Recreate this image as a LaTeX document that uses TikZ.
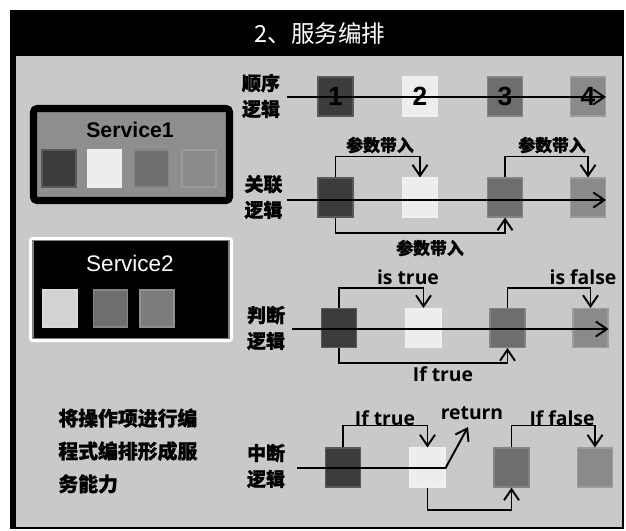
\documentclass[tikz,border=0pt]{standalone}
\usepackage{fontspec}
\setmainfont{Liberation Sans}
\newfontfamily\cjk{Noto Sans CJK SC}
\newfontfamily\cjkheavy{Noto Sans CJK SC}[BoldFeatures={FakeBold=1}]
\newfontfamily\opensans{Open Sans}
\usetikzlibrary{arrows.meta,positioning}
\definecolor{panel}{HTML}{C9C9C9}
\definecolor{svcgray}{HTML}{8E8E8E}
\definecolor{sqA}{HTML}{3C3C3C}
\definecolor{sqB}{HTML}{EDEDED}
\definecolor{sqC}{HTML}{6E6E6E}
\definecolor{sqD}{HTML}{8A8A8A}
\definecolor{sqE}{HTML}{D2D2D2}
\definecolor{sqF}{HTML}{7C7C7C}
\tikzset{
  cell/.style={fill=#1,draw=#1!85!white,line width=.6pt,inner sep=0pt,
    minimum width=7mm,minimum height=7.8mm},
  minicell/.style={cell=#1,minimum width=6.8mm,minimum height=7.4mm},
  rowlabel/.style={align=center,inner sep=0pt,
    font=\cjkheavy\bfseries\fontsize{10.8}{14.7}\selectfont},
  tag/.style={inner sep=1pt,font=\cjkheavy\bfseries\fontsize{9.6}{11}\selectfont},
  flag/.style={inner sep=1pt,font=\opensans\bfseries\fontsize{11}{13}\selectfont},
  arrow/.style={-{Straight Barb[length=2.2mm,width=3mm]},line width=1.1pt}
}

\begin{document}
\begin{tikzpicture}[x=0.2mm,y=-0.2mm]
  \useasboundingbox[fill=white] (0,0) rectangle (626,530);
  % frame and title bar
  \fill[black] (10,10) rectangle (624,529);
  \fill[panel] (16,56) rectangle (622,527);
  \node[text=white,font=\cjk\fontsize{13.4}{16}\selectfont] (title) at (320,33) {2、服务编排};

  % left panel
  \node[draw=black,line width=4pt,fill=svcgray,rounded corners=2pt,
    minimum width=39.2mm,minimum height=18.4mm] (svc1box) at (131.5,154.5) {};
  \node[font=\bfseries\fontsize{12.1}{14}\selectfont] (svc1) at (130,130) {Service1};
  \foreach \x/\c [count=\i] in {59/sqA,104.5/sqB,151.5/sqC,199/sqD}
    \node[minicell=\c] (svc1c\i) at (\x,168.5) {};
  \node[fill=white,rounded corners=2pt,minimum width=40.8mm,minimum height=21mm]
    (svc2frame) at (131,289.5) {};
  \node[fill=black,draw=gray,line width=.6pt,minimum width=39.2mm,minimum height=19.6mm]
    (svc2box) at (131,289.5) {};
  \node[text=white,font=\fontsize{12.8}{15}\selectfont] (svc2) at (130,263) {Service2};
  \foreach \x/\c [count=\i] in {60/sqE,110.5/sqC,157/sqF}
    \node[minicell=\c] (svc2c\i) at (\x,308.5) {};
  \node[anchor=west,align=left,inner sep=0pt,
    font=\cjkheavy\bfseries\fontsize{11.3}{18.7}\selectfont] (note) at (58,451)
    {将操作项进行编\\程式编排形成服\\务能力};

  % row labels
  \node[rowlabel] (seqlab) at (261,96) {顺序\\逻辑};
  \node[rowlabel] (linklab) at (263.5,197) {关联\\逻辑};
  \node[rowlabel] (judgelab) at (266,328) {判断\\逻辑};
  \node[rowlabel] (stoplab) at (266,466) {中断\\逻辑};

  % operation cells
  \foreach \x/\c [count=\i] in {335.5/sqA,420/sqB,505/sqC,588/sqD}
    \node[cell=\c,font=\bfseries\fontsize{15}{18}\selectfont] (seq\i) at (\x,96.5) {\i};
  \foreach \x/\c [count=\i] in {335.5/sqA,420/sqB,505/sqC,588/sqD}
    \node[cell=\c] (link\i) at (\x,197.5) {};
  \foreach \x/\c [count=\i] in {339/sqA,423.5/sqB,507.5/sqC,590.5/sqD}
    \node[cell=\c] (judge\i) at (\x,328) {};
  \foreach \x/\c [count=\i] in {343/sqA,427.5/sqB,511.5/sqC,595/sqD}
    \node[cell=\c] (stop\i) at (\x,467.5) {};

  % sequence
  \coordinate (seqin) at (287,97);
  \draw[arrow] (seqin) -- (seqin -| seq4.east);

  % linked
  \coordinate (linkin) at (287,200);
  \draw[arrow] (linkin) -- (linkin -| link4.east);
  \draw[arrow] (link1.north) -- ++(0,-21) -| (link2.north);
  \draw[arrow] (link3.north) -- ++(0,-21) -| (link4.north);
  \draw[arrow] (link1.south) -- ++(0,15) -| (link3.south);
  \node[tag] (linktag1) at (380,145) {参数带入};
  \node[tag] (linktag2) at (552,145) {参数带入};
  \node[tag] (linktag3) at (430,248) {参数带入};

  % judge
  \coordinate (judgein) at (292,329);
  \draw[arrow] (judgein) -- (judgein -| judge4.east);
  \draw[arrow] (judge1.north) -- ++(0,-20) -| (judge2.north);
  \draw[arrow] (judge3.north) -- ++(0,-20) -| (judge4.north);
  \draw[arrow] (judge1.south) -- ++(0,15) -| (judge3.south);
  \node[flag] (istrue) at (408,277) {is true};
  \node[flag] (isfalse) at (583,277) {is false};
  \node[flag] (iftrue) at (443,374) {If true};

  % break
  \coordinate (stopin) at (297,468);
  \coordinate (stopout) at (468,427);
  \draw[arrow] (stopin) -- (stopin -| stop2.east) -- (stopout);
  \draw[arrow] (stop1.north) -- ++(0,-22) -| (stop2.north);
  \draw[arrow] (stop3.north) -- ++(0,-22) -| (stop4.north);
  \draw[arrow] (stop2.south) -- ++(0,22) -| (stop3.south);
  \node[flag] (stoptrue) at (385,418) {If true};
  \node[flag] (ret) at (472,413) {return};
  \node[flag] (stopfalse) at (562,418) {If false};
\end{tikzpicture}
\end{document}
